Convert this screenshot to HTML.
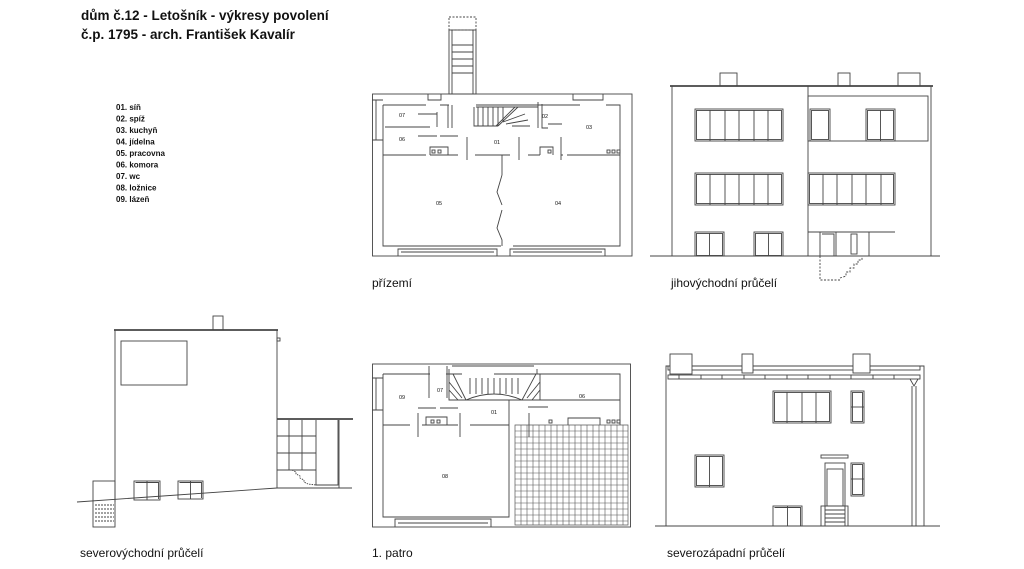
<!DOCTYPE html>
<html><head><meta charset="utf-8"><style>
html,body{margin:0;padding:0;background:#fff}
svg{display:block}
text{font-family:"Liberation Sans",sans-serif;fill:#111}
.t{font-weight:bold;font-size:13.5px}
.l{font-weight:bold;font-size:8px}
.c{font-size:12px}
.r{font-size:5.5px}
</style></head><body>
<svg width="1024" height="569" viewBox="0 0 1024 569" xmlns="http://www.w3.org/2000/svg">
<text class="t" x="81" y="20">dům č.12 - Letošník - výkresy povolení</text>
<text class="t" x="81" y="39">č.p. 1795 - arch. František Kavalír</text>
<g class="l">
<text class="l" x="116" y="110">01. síň</text>
<text class="l" x="116" y="121.5">02. spíž</text>
<text class="l" x="116" y="133">03. kuchyň</text>
<text class="l" x="116" y="144.5">04. jídelna</text>
<text class="l" x="116" y="156">05. pracovna</text>
<text class="l" x="116" y="167.5">06. komora</text>
<text class="l" x="116" y="179">07. wc</text>
<text class="l" x="116" y="190.5">08. ložnice</text>
<text class="l" x="116" y="202">09. lázeň</text>
</g>

<g fill="none" stroke="#444" stroke-width="0.9">
<rect x="372.5" y="94" width="259.5" height="162"/>
<path d="M383 105 H426 M440 105 H449 M476 105 H580 M606 105 H620 V246 H513 M501 246 H383 V105"/>
<rect x="449" y="30" width="27" height="64"/>
<rect x="449" y="17" width="27" height="13" stroke-dasharray="2,1.5"/>
<path d="M452 30 V94 M473 30 V94 M452 45 H473 M452 52 H473 M452 59 H473 M452 66 H473 M452 73 H473"/>
<path d="M383 155 H426 M430 155 H458 M475 155 H510 M528 155 H540 M561 155 H563 M567 155 H620 M502 155 V175 M502 175 L497 192 L502 205 M502 210 L497 228 L502 240 V246"/>
<path d="M467 137 V160 M519 137 V160 M561 137 V160"/>
<path d="M430 155 V147 H448 V155 M540 155 V147 H553 V155"/>
<rect x="432" y="150" width="3" height="3"/><rect x="438" y="150" width="3" height="3"/>
<rect x="548" y="150" width="3" height="3"/>
<rect x="607" y="150" width="3" height="3"/><rect x="612" y="150" width="3" height="3"/><rect x="617" y="150" width="3" height="3"/>
<path d="M418 114 H437 M418 136 H437 M440 136 H458 M437 112 V127 M385 127 H430"/>
<path d="M448 105 V128 M452 105 V128 M474 107 V126 H498 M476 107 H538 M538 102 V128 M542 104 V128 H548 M548 124 H562"/>
<path d="M478 107 V126 M483 107 V126 M488 107 V126 M493 107 V126 M498 107 V126 M503 107 V122 M496 126 L515 107 M498 126 L518 107 M503 122 L525 114 M506 124 L528 120 M512 126 L530 126"/>
<path d="M372 100 H383 M372 140 H383 M376 100 V140"/>
<path d="M428 94 V100 H441 V94 M573 94 V100 H603 V94"/>
<path d="M398 256 V249 H497 V256 M510 256 V249 H605 V256 M401 252 H494 M513 252 H602"/>
</g>
<g class="r">
<text class="r" x="399" y="117">07</text><text class="r" x="399" y="141">06</text>
<text class="r" x="494" y="144">01</text><text class="r" x="542" y="118">02</text>
<text class="r" x="586" y="129">03</text><text class="r" x="436" y="205">05</text>
<text class="r" x="555" y="205">04</text>
</g>
<text class="c" x="372" y="287">přízemí</text>

<g fill="none" stroke="#444" stroke-width="0.9">
<path d="M650 256 H940"/>
<path d="M672 256 V86 H931 V256 M808 86 V256"/>
<path d="M670 86 H933" stroke-width="1.8"/>
<rect x="720" y="73" width="17" height="13"/><rect x="838" y="73" width="12" height="13"/><rect x="898" y="73" width="22" height="13"/>
<rect x="808" y="96" width="120" height="45"/>
<rect x="695" y="109" width="88" height="32"/><rect x="696.5" y="110.5" width="85" height="29"/>
<path d="M710 110 V141 M725 110 V141 M739 110 V141 M754 110 V141 M768 110 V141"/>
<rect x="810" y="109" width="20" height="32"/><rect x="811.5" y="110.5" width="17" height="29"/>
<rect x="866" y="109" width="29" height="32"/><rect x="867.5" y="110.5" width="26" height="29"/><path d="M880.5 110 V141"/>
<rect x="695" y="173" width="88" height="32"/><rect x="696.5" y="174.5" width="85" height="29"/>
<path d="M710 174 V205 M725 174 V205 M739 174 V205 M754 174 V205 M768 174 V205"/>
<rect x="808" y="173" width="87" height="32"/><rect x="809.5" y="174.5" width="84" height="29"/>
<path d="M823 174 V205 M837 174 V205 M852 174 V205 M866 174 V205 M881 174 V205"/>
<rect x="695" y="232" width="29" height="24"/><rect x="696.5" y="233.5" width="26" height="22"/><path d="M709.5 233 V256"/>
<rect x="754" y="232" width="29" height="24"/><rect x="755.5" y="233.5" width="26" height="22"/><path d="M768.5 233 V256"/>
<path d="M808 232 H895 M869 232 V256 M820 232 V256 M836 232 V256 M822 234 H834 V256"/>
<rect x="851" y="234" width="6" height="20"/>
<path d="M820 256 V280 H840 M840 278 L846 276 V272 H850 V268 H854 V264 H858 V260 H862 V256" stroke-dasharray="2,1.5"/>
</g>
<text class="c" x="671" y="287">jihovýchodní průčelí</text>

<g fill="none" stroke="#444" stroke-width="0.9">
<path d="M77 502 L277 488 H352"/>
<path d="M115 502 V330 H277 V488"/>
<path d="M114 330 H278" stroke-width="1.8"/>
<rect x="213" y="316" width="10" height="14"/>
<rect x="277" y="338" width="3" height="3"/>
<rect x="121" y="341" width="66" height="44"/>
<path d="M277 419 H353" stroke-width="1.8"/>
<path d="M289 420 V470 M302 420 V470 M316 420 V485 H338 V420 M339 420 V488 M277 436 H316 M277 453 H316 M277 470 H316"/>
<path d="M292 470 L296 472 V474 L300 476 V478 L304 480 V482 L308 484 L316 485" stroke-dasharray="1.5,1"/>
<rect x="134" y="481" width="26" height="19"/><path d="M147 481 V500 M135.5 482.5 H158.5 V499"/>
<rect x="178" y="481" width="25" height="18"/><path d="M190.5 481 V499 M179.5 482.5 H201.5 V498"/>
<rect x="93" y="481" width="22" height="46"/>
<path d="M95 505 H114 M95 509 H114 M95 513 H114 M95 517 H114 M95 521 H114" stroke-dasharray="2,1"/>
</g>
<text class="c" x="80" y="557">severovýchodní průčelí</text>

<g fill="none" stroke="#444" stroke-width="0.9">
<rect x="372.5" y="364" width="258" height="163"/>
<path d="M383 374 H430 M446 374 H462 M494 374 H540 M540 374 H620 V425 M383 374 V517 H509 V425 M383 425 H410 M422 425 H458 M470 425 H509 M509 425 V400 M540 374 V400 H620"/>
<path d="M449 374 V400 H540 M453 374 L466 400 M449 382 L462 398 M449 390 L458 400 M536 374 L522 400 M540 382 L527 398 M540 390 L532 400 M470 378 V394 M476 378 V394 M482 378 V394 M488 378 V394 M494 378 V394 M500 378 V394 M506 378 V394 M512 378 V394 M518 378 V394 M466 400 Q494 388 522 400"/>
<path d="M449 369 V374 M537 369 V374 M452 366 H534 M429 366 V374 M447 366 V374"/>
<path d="M429 374 V398 M447 374 V398 M418 408 H436 M440 408 H458 M528 407 H548 M418 413 V437 M460 413 V437 M426 425 V417 H447 V425 M529 413 V437"/>
<rect x="431" y="420" width="3" height="3"/><rect x="437" y="420" width="3" height="3"/>
<rect x="549" y="420" width="3" height="3"/>
<rect x="607" y="420" width="3" height="3"/><rect x="612" y="420" width="3" height="3"/><rect x="617" y="420" width="3" height="3"/>
<path d="M372 378 H383 M372 410 H383 M376 378 V410"/>
<path d="M568 425 V418 H600 V425 M395 527 V519 H491 V527 M398 523 H488"/>
<path d="M515 425 H628 V525 H515 Z" stroke="#555" stroke-width="0.7"/>
<path stroke="#555" stroke-width="0.6" d="M521 425V525M527 425V525M533 425V525M539 425V525M545 425V525M551 425V525M557 425V525M563 425V525M569 425V525M575 425V525M581 425V525M587 425V525M593 425V525M599 425V525M605 425V525M611 425V525M617 425V525M623 425V525M515 431H628M515 437H628M515 443H628M515 449H628M515 455H628M515 461H628M515 467H628M515 473H628M515 479H628M515 485H628M515 491H628M515 497H628M515 503H628M515 509H628M515 515H628M515 521H628"/>
</g>
<g class="r">
<text class="r" x="399" y="399">09</text><text class="r" x="437" y="392">07</text>
<text class="r" x="491" y="414">01</text><text class="r" x="579" y="398">06</text>
<text class="r" x="442" y="478">08</text>
</g>
<text class="c" x="372" y="557">1. patro</text>

<g fill="none" stroke="#444" stroke-width="0.9">
<path d="M655 526 H940"/>
<path d="M666 526 V366 H924 V526"/>
<rect x="668" y="366" width="252" height="4"/>
<rect x="668" y="375" width="252" height="4"/>
<path d="M679 375 V379 M701 375 V379 M722 375 V379 M744 375 V379 M765 375 V379 M787 375 V379 M808 375 V379 M830 375 V379 M851 375 V379 M873 375 V379 M894 375 V379"/>
<rect x="670" y="354" width="22" height="20" fill="#fff"/><rect x="742" y="354" width="11" height="19" fill="#fff"/><rect x="853" y="354" width="17" height="19" fill="#fff"/>
<path d="M910 379 L914 386 L918 379 M912 386 V526 M916 386 V526"/>
<rect x="773" y="391" width="58" height="32"/><rect x="774.5" y="392.5" width="55" height="29"/>
<path d="M787 392 V423 M802 392 V423 M816 392 V423"/>
<rect x="851" y="391" width="13" height="32"/><rect x="852.5" y="392.5" width="10" height="29"/><path d="M851 407 H864"/>
<rect x="695" y="455" width="29" height="32"/><rect x="696.5" y="456.5" width="26" height="29"/><path d="M709.5 456 V487"/>
<rect x="821" y="455" width="27" height="3"/>
<rect x="825" y="463" width="20" height="43"/><rect x="827" y="469" width="16" height="37"/>
<rect x="851" y="463" width="13" height="33"/><rect x="852.5" y="464.5" width="10" height="30"/><path d="M851 479 H864"/>
<rect x="773" y="506" width="29" height="20"/><path d="M787.5 506 V526 M774.5 507.5 H800.5 V526"/>
<rect x="821" y="506" width="27" height="20"/>
<path d="M825 510 H845 M825 514 H845 M825 518 H845 M825 522 H845 M825 506 V526 M845 506 V526"/>
</g>
<text class="c" x="667" y="557">severozápadní průčelí</text>
</svg>
</body></html>
